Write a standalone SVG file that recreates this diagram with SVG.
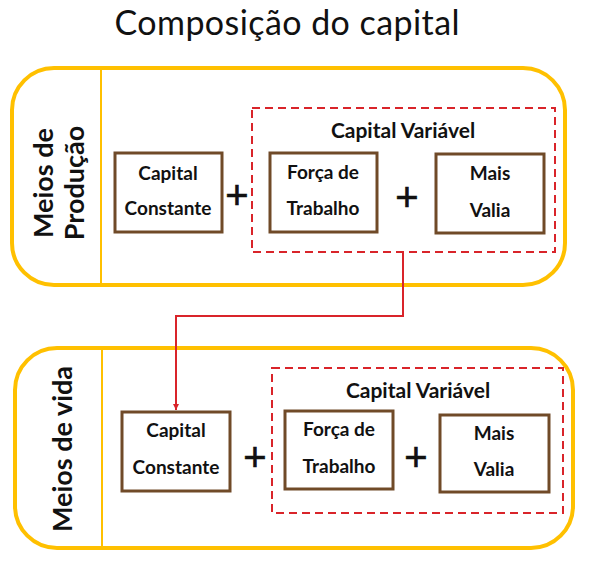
<svg xmlns="http://www.w3.org/2000/svg" width="591" height="577" viewBox="0 0 591 577">
<style>
.panel{fill:none;stroke:#FFC000;stroke-width:4}
.div{stroke:#FFC000;stroke-width:2}
.box{fill:#fff;stroke:#704A28;stroke-width:3}
.dash{fill:none;stroke:#D9242A;stroke-width:2;stroke-dasharray:8,5}
.t{font-family:Lato,"Liberation Sans",sans-serif;font-weight:bold;font-size:19px;text-anchor:middle;fill:#111}
.h{font-family:Lato,"Liberation Sans",sans-serif;font-weight:bold;font-size:21px;text-anchor:middle;fill:#111}
.side{font-family:Lato,"Liberation Sans",sans-serif;font-weight:bold;font-size:27px;text-anchor:middle;fill:#111}
.plus{font-family:"Liberation Sans",sans-serif;font-size:40px;text-anchor:middle;fill:#111;stroke:#111;stroke-width:0.6}
.title{font-family:Lato,"Liberation Sans",sans-serif;font-size:34px;text-anchor:middle;fill:#111}
</style>
<defs>
<marker id="arr" markerWidth="8" markerHeight="8" refX="6" refY="4" orient="auto" markerUnits="userSpaceOnUse">
<path d="M0,1 L6,4 L0,7 Z" fill="#D9242A"/>
</marker>
</defs>
<rect width="591" height="577" fill="#fff"/>
<text class="title" x="287" y="35" textLength="345" lengthAdjust="spacing">Composição do capital</text>

<g id="panel-producao">
<rect class="panel" x="12" y="68" width="553" height="217" rx="42"/>
<line class="div" x1="101" y1="68" x2="101" y2="285"/>
<text class="side" transform="translate(53,183) rotate(-90)">Meios de</text>
<text class="side" transform="translate(84,183) rotate(-90)">Produção</text>
</g>
<g id="cv-top">
<rect class="dash" x="252" y="108" width="303" height="144"/>
<text class="h" x="403" y="138">Capital Variável</text>
</g>
<g id="cc-top">
<rect class="box" x="115" y="153" width="107" height="79"/>
<text class="t" x="168" y="180">Capital</text>
<text class="t" x="168" y="215">Constante</text>
</g>
<text class="plus" x="237" y="209">+</text>
<g id="ft-top">
<rect class="box" x="270" y="153" width="107" height="79"/>
<text class="t" x="323" y="179">Força de</text>
<text class="t" x="323" y="215">Trabalho</text>
</g>
<text class="plus" x="407" y="211">+</text>
<g id="mv-top">
<rect class="box" x="436" y="154" width="108" height="79"/>
<text class="t" x="490" y="180">Mais</text>
<text class="t" x="490" y="217">Valia</text>
</g>

<g id="panel-vida">
<rect class="panel" x="15" y="348" width="558" height="200" rx="42"/>
<line class="div" x1="102" y1="348" x2="102" y2="548"/>
<text class="side" transform="translate(72,449) rotate(-90)">Meios de vida</text>
</g>
<g id="cv-bottom">
<rect class="dash" x="272" y="368" width="291" height="145"/>
<text class="h" x="418" y="398">Capital Variável</text>
</g>
<g id="cc-bottom">
<rect class="box" x="122" y="412" width="108" height="79"/>
<text class="t" x="176" y="437">Capital</text>
<text class="t" x="176" y="474">Constante</text>
</g>
<text class="plus" x="255" y="471">+</text>
<g id="ft-bottom">
<rect class="box" x="285" y="411" width="108" height="78"/>
<text class="t" x="339" y="436">Força de</text>
<text class="t" x="339" y="473">Trabalho</text>
</g>
<text class="plus" x="416" y="471">+</text>
<g id="mv-bottom">
<rect class="box" x="440" y="415" width="109" height="77"/>
<text class="t" x="494" y="440">Mais</text>
<text class="t" x="494" y="476">Valia</text>
</g>

<g id="connectors">
<path d="M403,252 V316 H176 V410" fill="none" stroke="#D9242A" stroke-width="2" marker-end="url(#arr)"/>
</g>
</svg>
